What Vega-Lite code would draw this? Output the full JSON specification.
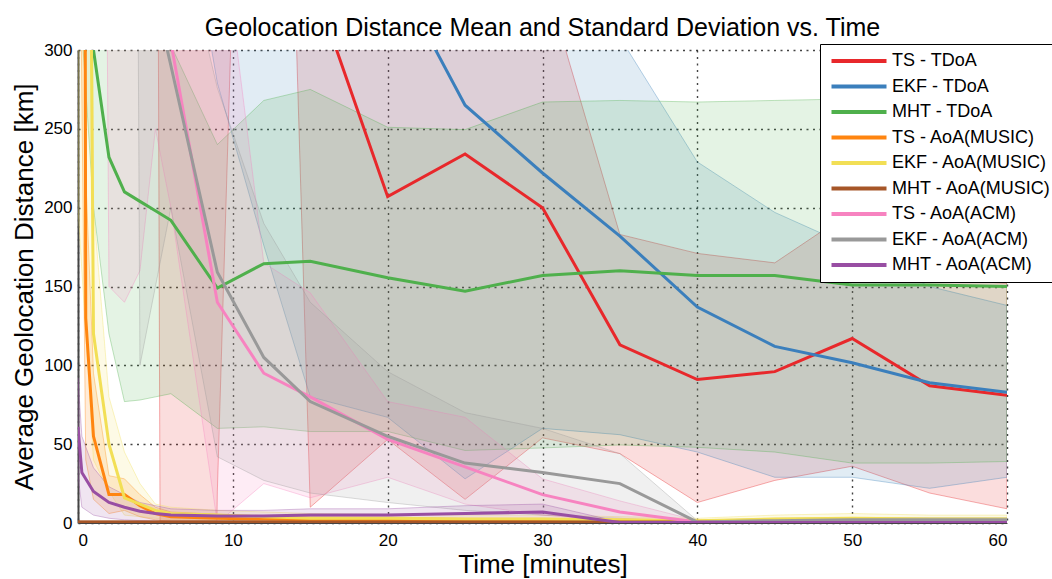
{
"$schema": "https://vega.github.io/schema/vega-lite/v6.json",
"width": 929, "height": 473,
"autosize": {"type": "none"},
"padding": {"left": 78, "top": 50, "right": 45, "bottom": 56},
"title": {"text": "Geolocation Distance Mean and Standard Deviation vs. Time", "fontSize": 25, "font": "Liberation Sans", "fontWeight": "normal", "color": "black", "offset": 8, "dy": 8, "anchor": "middle"},
"config": {
  "view": {"stroke": null},
  "font": "Liberation Sans",
  "axis": {"labelFont": "Liberation Sans", "titleFont": "Liberation Sans", "labelFontSize": 17, "titleFontWeight": "normal", "labelColor": "black", "titleColor": "black", "grid": true, "gridColor": "#222", "gridDash": [2, 4.5], "gridWidth": 1.4, "gridOpacity": 0.85, "ticks": false, "domainColor": "#444"},
  "axisX": {"labelPadding": 9, "titlePadding": 3, "domainWidth": 1, "titleFontSize": 26},
  "axisY": {"labelPadding": 6, "titlePadding": 6, "domainWidth": 2, "titleFontSize": 26}
},
"datasets": {"d": [
{"s":"TS - TDoA","t":0,"m":3000,"lo":2000,"hi":4000},
{"s":"TS - TDoA","t":1,"m":2800,"lo":2000,"hi":3600},
{"s":"TS - TDoA","t":2,"m":2500,"lo":1800,"hi":3200},
{"s":"TS - TDoA","t":3,"m":2200,"lo":1600,"hi":2800},
{"s":"TS - TDoA","t":4,"m":1800,"lo":1300,"hi":2300},
{"s":"TS - TDoA","t":5,"m":1100,"lo":850,"hi":1350},
{"s":"TS - TDoA","t":6,"m":700,"lo":-2000,"hi":3400},
{"s":"TS - TDoA","t":9,"m":650,"lo":20,"hi":1280},
{"s":"TS - TDoA","t":12,"m":1200,"lo":1000,"hi":1400},
{"s":"TS - TDoA","t":15,"m":348,"lo":10,"hi":686},
{"s":"TS - TDoA","t":20,"m":207,"lo":53,"hi":361},
{"s":"TS - TDoA","t":25,"m":234,"lo":15,"hi":453},
{"s":"TS - TDoA","t":30,"m":200,"lo":54,"hi":350},
{"s":"TS - TDoA","t":35,"m":113,"lo":44,"hi":183},
{"s":"TS - TDoA","t":40,"m":91,"lo":13,"hi":171},
{"s":"TS - TDoA","t":45,"m":96,"lo":27,"hi":165},
{"s":"TS - TDoA","t":50,"m":117,"lo":36,"hi":198},
{"s":"TS - TDoA","t":55,"m":87,"lo":19,"hi":155},
{"s":"TS - TDoA","t":60,"m":81,"lo":9,"hi":152},
{"s":"EKF - TDoA","t":0,"m":3000,"lo":1500,"hi":4500},
{"s":"EKF - TDoA","t":1,"m":2800,"lo":1400,"hi":4200},
{"s":"EKF - TDoA","t":2,"m":2600,"lo":1300,"hi":3900},
{"s":"EKF - TDoA","t":3,"m":2400,"lo":1200,"hi":3600},
{"s":"EKF - TDoA","t":4,"m":2200,"lo":1100,"hi":3300},
{"s":"EKF - TDoA","t":5,"m":2000,"lo":1000,"hi":3000},
{"s":"EKF - TDoA","t":6,"m":1500,"lo":450,"hi":2550},
{"s":"EKF - TDoA","t":9,"m":900,"lo":279,"hi":1521},
{"s":"EKF - TDoA","t":12,"m":600,"lo":176,"hi":1024},
{"s":"EKF - TDoA","t":15,"m":450,"lo":80,"hi":820},
{"s":"EKF - TDoA","t":20,"m":357,"lo":67,"hi":647},
{"s":"EKF - TDoA","t":25,"m":265,"lo":28,"hi":502},
{"s":"EKF - TDoA","t":30,"m":222,"lo":60,"hi":384},
{"s":"EKF - TDoA","t":35,"m":182,"lo":56,"hi":308},
{"s":"EKF - TDoA","t":40,"m":137,"lo":45,"hi":229},
{"s":"EKF - TDoA","t":45,"m":112,"lo":29,"hi":197},
{"s":"EKF - TDoA","t":50,"m":101.6,"lo":29,"hi":175},
{"s":"EKF - TDoA","t":55,"m":89,"lo":22,"hi":150},
{"s":"EKF - TDoA","t":60,"m":83,"lo":29,"hi":138},
{"s":"MHT - TDoA","t":0,"m":600,"lo":350,"hi":850},
{"s":"MHT - TDoA","t":1,"m":300,"lo":200,"hi":400},
{"s":"MHT - TDoA","t":2,"m":232,"lo":120,"hi":344},
{"s":"MHT - TDoA","t":3,"m":210,"lo":77,"hi":343},
{"s":"MHT - TDoA","t":4,"m":204,"lo":78,"hi":330},
{"s":"MHT - TDoA","t":5,"m":198,"lo":80,"hi":316},
{"s":"MHT - TDoA","t":6,"m":192,"lo":82,"hi":303},
{"s":"MHT - TDoA","t":9,"m":149,"lo":60,"hi":240},
{"s":"MHT - TDoA","t":12,"m":164.5,"lo":61,"hi":268},
{"s":"MHT - TDoA","t":15,"m":166,"lo":58,"hi":275},
{"s":"MHT - TDoA","t":20,"m":155.5,"lo":58,"hi":251},
{"s":"MHT - TDoA","t":25,"m":147,"lo":46,"hi":249.5},
{"s":"MHT - TDoA","t":30,"m":157,"lo":47.6,"hi":267},
{"s":"MHT - TDoA","t":35,"m":160,"lo":49.5,"hi":268},
{"s":"MHT - TDoA","t":40,"m":157,"lo":48,"hi":267},
{"s":"MHT - TDoA","t":45,"m":157,"lo":45,"hi":268},
{"s":"MHT - TDoA","t":50,"m":151,"lo":38,"hi":269},
{"s":"MHT - TDoA","t":55,"m":151,"lo":38,"hi":267},
{"s":"MHT - TDoA","t":60,"m":150,"lo":39,"hi":267},
{"s":"TS - AoA(MUSIC)","t":0,"m":3000,"lo":500,"hi":5500},
{"s":"TS - AoA(MUSIC)","t":0.5,"m":130,"lo":40,"hi":220},
{"s":"TS - AoA(MUSIC)","t":1,"m":55,"lo":15,"hi":95},
{"s":"TS - AoA(MUSIC)","t":2,"m":18,"lo":6,"hi":30},
{"s":"TS - AoA(MUSIC)","t":3,"m":18,"lo":8,"hi":28},
{"s":"TS - AoA(MUSIC)","t":4,"m":11,"lo":4,"hi":18},
{"s":"TS - AoA(MUSIC)","t":5,"m":6,"lo":2,"hi":10},
{"s":"TS - AoA(MUSIC)","t":6,"m":4,"lo":1,"hi":7},
{"s":"TS - AoA(MUSIC)","t":9,"m":3,"lo":0.5,"hi":5.5},
{"s":"TS - AoA(MUSIC)","t":12,"m":2.5,"lo":0.3,"hi":4.5},
{"s":"TS - AoA(MUSIC)","t":15,"m":2,"lo":0.2,"hi":4},
{"s":"TS - AoA(MUSIC)","t":20,"m":2,"lo":0.2,"hi":3.8},
{"s":"TS - AoA(MUSIC)","t":25,"m":1.5,"lo":0.1,"hi":3},
{"s":"TS - AoA(MUSIC)","t":30,"m":1.5,"lo":0.1,"hi":3},
{"s":"TS - AoA(MUSIC)","t":35,"m":1,"lo":0,"hi":2.5},
{"s":"TS - AoA(MUSIC)","t":40,"m":1,"lo":0,"hi":2},
{"s":"TS - AoA(MUSIC)","t":45,"m":1,"lo":0,"hi":2},
{"s":"TS - AoA(MUSIC)","t":50,"m":1,"lo":0,"hi":2},
{"s":"TS - AoA(MUSIC)","t":55,"m":1,"lo":0,"hi":2},
{"s":"TS - AoA(MUSIC)","t":60,"m":1,"lo":0,"hi":2},
{"s":"EKF - AoA(MUSIC)","t":0,"m":1500,"lo":200,"hi":2800},
{"s":"EKF - AoA(MUSIC)","t":1,"m":120,"lo":40,"hi":200},
{"s":"EKF - AoA(MUSIC)","t":2,"m":50,"lo":20,"hi":80},
{"s":"EKF - AoA(MUSIC)","t":3,"m":16,"lo":5,"hi":45},
{"s":"EKF - AoA(MUSIC)","t":4,"m":12,"lo":4,"hi":25},
{"s":"EKF - AoA(MUSIC)","t":5,"m":8,"lo":3,"hi":12},
{"s":"EKF - AoA(MUSIC)","t":6,"m":6,"lo":2,"hi":10},
{"s":"EKF - AoA(MUSIC)","t":9,"m":5,"lo":1.5,"hi":8},
{"s":"EKF - AoA(MUSIC)","t":12,"m":4,"lo":1,"hi":7},
{"s":"EKF - AoA(MUSIC)","t":15,"m":3,"lo":1,"hi":6},
{"s":"EKF - AoA(MUSIC)","t":20,"m":3,"lo":1,"hi":5.5},
{"s":"EKF - AoA(MUSIC)","t":25,"m":2.5,"lo":0.5,"hi":5},
{"s":"EKF - AoA(MUSIC)","t":30,"m":2.5,"lo":0.5,"hi":5},
{"s":"EKF - AoA(MUSIC)","t":35,"m":2,"lo":0.5,"hi":4},
{"s":"EKF - AoA(MUSIC)","t":40,"m":1.5,"lo":0.3,"hi":3},
{"s":"EKF - AoA(MUSIC)","t":45,"m":2.5,"lo":0.5,"hi":5},
{"s":"EKF - AoA(MUSIC)","t":50,"m":3,"lo":0.5,"hi":6},
{"s":"EKF - AoA(MUSIC)","t":55,"m":2.5,"lo":0.5,"hi":5},
{"s":"EKF - AoA(MUSIC)","t":60,"m":2.5,"lo":0.5,"hi":5},
{"s":"MHT - AoA(MUSIC)","t":0,"m":0.6,"lo":0,"hi":1.5},
{"s":"MHT - AoA(MUSIC)","t":1,"m":0.6,"lo":0,"hi":1.5},
{"s":"MHT - AoA(MUSIC)","t":2,"m":0.6,"lo":0,"hi":1.5},
{"s":"MHT - AoA(MUSIC)","t":3,"m":0.6,"lo":0,"hi":1.5},
{"s":"MHT - AoA(MUSIC)","t":4,"m":0.6,"lo":0,"hi":1.5},
{"s":"MHT - AoA(MUSIC)","t":5,"m":0.6,"lo":0,"hi":1.5},
{"s":"MHT - AoA(MUSIC)","t":6,"m":0.6,"lo":0,"hi":1.5},
{"s":"MHT - AoA(MUSIC)","t":9,"m":0.6,"lo":0,"hi":1.5},
{"s":"MHT - AoA(MUSIC)","t":12,"m":0.6,"lo":0,"hi":1.5},
{"s":"MHT - AoA(MUSIC)","t":15,"m":0.6,"lo":0,"hi":1.5},
{"s":"MHT - AoA(MUSIC)","t":20,"m":0.6,"lo":0,"hi":1.5},
{"s":"MHT - AoA(MUSIC)","t":25,"m":0.6,"lo":0,"hi":1.5},
{"s":"MHT - AoA(MUSIC)","t":30,"m":0.6,"lo":0,"hi":1.5},
{"s":"MHT - AoA(MUSIC)","t":35,"m":0.6,"lo":0,"hi":1.5},
{"s":"MHT - AoA(MUSIC)","t":40,"m":0.6,"lo":0,"hi":1.5},
{"s":"MHT - AoA(MUSIC)","t":45,"m":0.6,"lo":0,"hi":1.5},
{"s":"MHT - AoA(MUSIC)","t":50,"m":0.6,"lo":0,"hi":1.5},
{"s":"MHT - AoA(MUSIC)","t":55,"m":0.6,"lo":0,"hi":1.5},
{"s":"MHT - AoA(MUSIC)","t":60,"m":0.6,"lo":0,"hi":1.5},
{"s":"TS - AoA(ACM)","t":0,"m":3000,"lo":2000,"hi":4000},
{"s":"TS - AoA(ACM)","t":1,"m":2500,"lo":1600,"hi":3400},
{"s":"TS - AoA(ACM)","t":2,"m":2000,"lo":150,"hi":3850},
{"s":"TS - AoA(ACM)","t":3,"m":1500,"lo":140,"hi":2860},
{"s":"TS - AoA(ACM)","t":4,"m":1200,"lo":160,"hi":2240},
{"s":"TS - AoA(ACM)","t":5,"m":1000,"lo":250,"hi":1750},
{"s":"TS - AoA(ACM)","t":6,"m":305,"lo":200,"hi":390},
{"s":"TS - AoA(ACM)","t":9,"m":140,"lo":0,"hi":400},
{"s":"TS - AoA(ACM)","t":12,"m":95,"lo":25,"hi":165},
{"s":"TS - AoA(ACM)","t":15,"m":80,"lo":16,"hi":146},
{"s":"TS - AoA(ACM)","t":20,"m":53,"lo":29,"hi":77},
{"s":"TS - AoA(ACM)","t":25,"m":35.6,"lo":12,"hi":67},
{"s":"TS - AoA(ACM)","t":30,"m":18,"lo":5,"hi":28},
{"s":"TS - AoA(ACM)","t":35,"m":7,"lo":1,"hi":14},
{"s":"TS - AoA(ACM)","t":40,"m":0.6,"lo":0,"hi":1.5},
{"s":"TS - AoA(ACM)","t":45,"m":0.5,"lo":0,"hi":1},
{"s":"TS - AoA(ACM)","t":50,"m":0.5,"lo":0,"hi":1},
{"s":"TS - AoA(ACM)","t":55,"m":0.5,"lo":0,"hi":1},
{"s":"TS - AoA(ACM)","t":60,"m":0.5,"lo":0,"hi":1},
{"s":"EKF - AoA(ACM)","t":0,"m":3000,"lo":2500,"hi":3500},
{"s":"EKF - AoA(ACM)","t":1,"m":2800,"lo":2300,"hi":3300},
{"s":"EKF - AoA(ACM)","t":2,"m":2600,"lo":2100,"hi":3100},
{"s":"EKF - AoA(ACM)","t":3,"m":2500,"lo":2000,"hi":3000},
{"s":"EKF - AoA(ACM)","t":4,"m":800,"lo":100,"hi":1500},
{"s":"EKF - AoA(ACM)","t":5,"m":333,"lo":150,"hi":516},
{"s":"EKF - AoA(ACM)","t":6,"m":290,"lo":200,"hi":400},
{"s":"EKF - AoA(ACM)","t":9,"m":159,"lo":42,"hi":276},
{"s":"EKF - AoA(ACM)","t":12,"m":105,"lo":27,"hi":190},
{"s":"EKF - AoA(ACM)","t":15,"m":77,"lo":19,"hi":140},
{"s":"EKF - AoA(ACM)","t":20,"m":55,"lo":13,"hi":96},
{"s":"EKF - AoA(ACM)","t":25,"m":38,"lo":8,"hi":70},
{"s":"EKF - AoA(ACM)","t":30,"m":32,"lo":5,"hi":60},
{"s":"EKF - AoA(ACM)","t":35,"m":25,"lo":3,"hi":44},
{"s":"EKF - AoA(ACM)","t":40,"m":0.6,"lo":0,"hi":1.5},
{"s":"EKF - AoA(ACM)","t":45,"m":1.5,"lo":0,"hi":3},
{"s":"EKF - AoA(ACM)","t":50,"m":2,"lo":0.5,"hi":3.5},
{"s":"EKF - AoA(ACM)","t":55,"m":2,"lo":0.5,"hi":3.5},
{"s":"EKF - AoA(ACM)","t":60,"m":2,"lo":0.5,"hi":3.5},
{"s":"MHT - AoA(ACM)","t":0,"m":61,"lo":30,"hi":92},
{"s":"MHT - AoA(ACM)","t":0.25,"m":32,"lo":10,"hi":55},
{"s":"MHT - AoA(ACM)","t":1,"m":20,"lo":5,"hi":35},
{"s":"MHT - AoA(ACM)","t":2,"m":13,"lo":3,"hi":23},
{"s":"MHT - AoA(ACM)","t":3,"m":10,"lo":2,"hi":18},
{"s":"MHT - AoA(ACM)","t":4,"m":7.5,"lo":1.5,"hi":13},
{"s":"MHT - AoA(ACM)","t":5,"m":6,"lo":1,"hi":11},
{"s":"MHT - AoA(ACM)","t":6,"m":5,"lo":1,"hi":9},
{"s":"MHT - AoA(ACM)","t":9,"m":4.5,"lo":1,"hi":8},
{"s":"MHT - AoA(ACM)","t":12,"m":4.5,"lo":1,"hi":8},
{"s":"MHT - AoA(ACM)","t":15,"m":5,"lo":1.5,"hi":9},
{"s":"MHT - AoA(ACM)","t":20,"m":5,"lo":1.5,"hi":9},
{"s":"MHT - AoA(ACM)","t":25,"m":6,"lo":2,"hi":11},
{"s":"MHT - AoA(ACM)","t":30,"m":7,"lo":2,"hi":12},
{"s":"MHT - AoA(ACM)","t":35,"m":0.3,"lo":0,"hi":0.6},
{"s":"MHT - AoA(ACM)","t":40,"m":0.3,"lo":0,"hi":0.6},
{"s":"MHT - AoA(ACM)","t":45,"m":0.3,"lo":0,"hi":0.6},
{"s":"MHT - AoA(ACM)","t":50,"m":0.3,"lo":0,"hi":0.6},
{"s":"MHT - AoA(ACM)","t":55,"m":0.3,"lo":0,"hi":0.6},
{"s":"MHT - AoA(ACM)","t":60,"m":0.3,"lo":0,"hi":0.6}
]},
"data": {"name": "d"},
"encoding": {
  "x": {"field": "t", "type": "quantitative", "scale": {"domain": [0, 60], "nice": false}, "axis": {"values": [0, 10, 20, 30, 40, 50, 60], "title": "Time [minutes]"}}
},
"layer": [
  {
    "mark": {"type": "area", "clip": true, "fillOpacity": 0.15, "strokeOpacity": 0.35, "strokeWidth": 1},
    "encoding": {
      "y": {"field": "lo", "type": "quantitative", "scale": {"domain": [0, 300], "nice": false}, "axis": {"values": [0, 50, 100, 150, 200, 250, 300], "title": "Average Geolocation Distance [km]"}},
      "y2": {"field": "hi"},
      "fill": {"field": "s", "type": "nominal", "legend": null, "scale": {"domain": ["TS - TDoA", "EKF - TDoA", "MHT - TDoA", "TS - AoA(MUSIC)", "EKF - AoA(MUSIC)", "MHT - AoA(MUSIC)", "TS - AoA(ACM)", "EKF - AoA(ACM)", "MHT - AoA(ACM)", "_"], "range": ["#e41a1c", "#377eb8", "#4daf4a", "#ff7f00", "#f2df55", "#a65628", "#f781bf", "#999999", "#984ea3", "#000000"]}},
      "stroke": {"field": "s", "type": "nominal", "legend": null, "scale": {"domain": ["TS - TDoA", "EKF - TDoA", "MHT - TDoA", "TS - AoA(MUSIC)", "EKF - AoA(MUSIC)", "MHT - AoA(MUSIC)", "TS - AoA(ACM)", "EKF - AoA(ACM)", "MHT - AoA(ACM)", "_"], "range": ["#e41a1c", "#377eb8", "#4daf4a", "#ff7f00", "#f2df55", "#a65628", "#f781bf", "#999999", "#984ea3", "#000000"]}}
    }
  },
  {
    "mark": {"type": "line", "clip": true, "strokeWidth": 3},
    "encoding": {
      "y": {"field": "m", "type": "quantitative", "axis": {"values": [0, 50, 100, 150, 200, 250, 300], "title": "Average Geolocation Distance [km]"}},
      "color": {"field": "s", "type": "nominal", "scale": {"domain": ["TS - TDoA", "EKF - TDoA", "MHT - TDoA", "TS - AoA(MUSIC)", "EKF - AoA(MUSIC)", "MHT - AoA(MUSIC)", "TS - AoA(ACM)", "EKF - AoA(ACM)", "MHT - AoA(ACM)"], "range": ["#e8282b", "#3b7fbc", "#4fb04c", "#ff8510", "#f2df55", "#a65628", "#f783c0", "#999999", "#984ea3"]},
        "legend": {"title": null, "orient": "none", "legendX": 742, "legendY": -6, "symbolType": "M-1,0L9,0", "symbolSize": 121, "symbolStrokeWidth": 4, "labelFontSize": 18, "labelFont": "Liberation Sans", "labelColor": "black", "labelOffset": 46, "padding": 8, "rowPadding": 7.5, "fillColor": "white", "strokeColor": "black", "labelLimit": 300}}
    }
  }
]
}
